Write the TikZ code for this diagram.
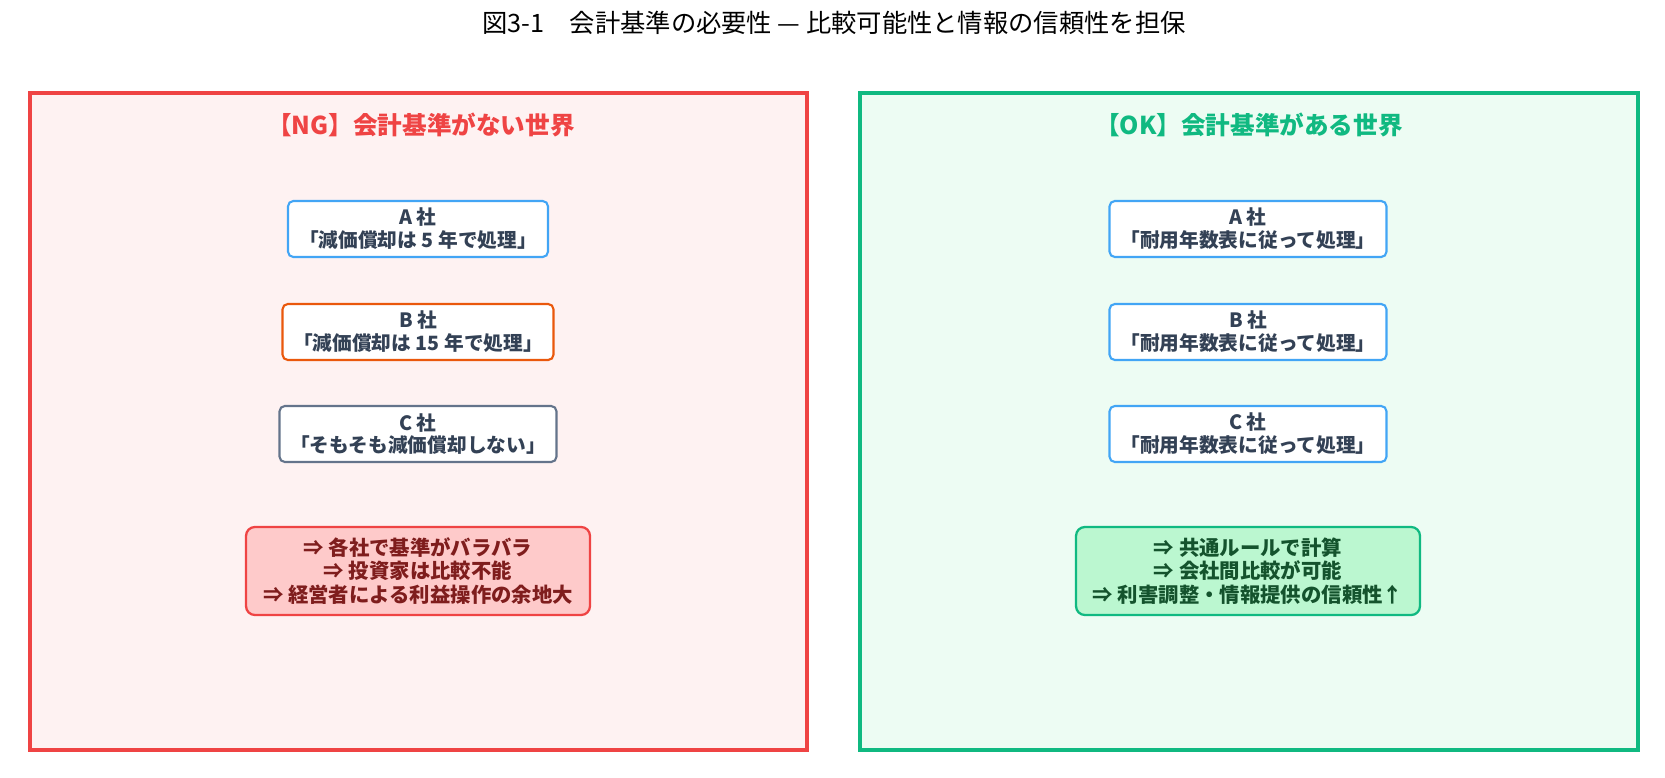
\documentclass[tikz,border=0pt]{standalone}
\usepackage{fontspec}
\setmainfont{Noto Sans CJK JP}
\usetikzlibrary{positioning}
\definecolor{ngred}{HTML}{EF4444}
\definecolor{ngbg}{HTML}{FEF2F2}
\definecolor{okgreen}{HTML}{10B981}
\definecolor{okbg}{HTML}{EDFCF3}
\definecolor{boxblue}{HTML}{42A5F5}
\definecolor{boxorange}{HTML}{EA580C}
\definecolor{boxgray}{HTML}{64748B}
\definecolor{textdark}{HTML}{334155}
\definecolor{ngfill}{HTML}{FECACA}
\definecolor{okfill}{HTML}{BBF7D0}
\definecolor{ngtext}{HTML}{7F1D1D}
\definecolor{oktext}{HTML}{14532D}

\begin{document}
\begin{tikzpicture}[x=0.02cm, y=-0.02cm]
      % Define styles
      \tikzset{
        world/.style={line width=2.6pt},
        heading/.style={font=\fontsize{14}{16}\selectfont\bfseries},
        company/.style={rectangle, draw=boxblue, fill=white, line width=1.2pt, rounded corners=3pt, align=center, minimum height=1.12cm, inner sep=3pt, text=textdark, font=\fontsize{11.2}{13}\selectfont\bfseries},
        result/.style={rectangle, line width=1.3pt, rounded corners=5pt, align=center, minimum height=1.76cm, minimum width=6.88cm, font=\fontsize{11.6}{13.5}\selectfont\bfseries}
      }
      \useasboundingbox (0,0) rectangle (1665,777);

      % Title
      \node (title) at (834,23) {\fontsize{14.4}{17}\selectfont 図3-1\quad 会計基準の必要性 — 比較可能性と情報の信頼性を担保};

      % Frames
      \draw [world, draw=ngred, fill=ngbg] (30,93) rectangle (807,750);
      \draw [world, draw=okgreen, fill=okbg] (860,93) rectangle (1638,750);
      \node [heading, text=ngred] (nghead) at (421,125) {【NG】会計基準がない世界};
      \node [heading, text=okgreen] (okhead) at (1249,125) {【OK】会計基準がある世界};

      % Left side
      \node [company, minimum width=5.2cm] (ngA) at (418,229) {A 社\\「減価償却は 5 年で処理」};
      \node [company, draw=boxorange, minimum width=5.42cm] (ngB) at (418,332) {B 社\\「減価償却は 15 年で処理」};
      \node [company, draw=boxgray, minimum width=5.54cm] (ngC) at (418,434) {C 社\\「そもそも減価償却しない」};
      \node [result, draw=ngred, fill=ngfill, text=ngtext] (ngres) at (418,571) {⇒ 各社で基準がバラバラ\\⇒ 投資家は比較不能\\⇒ 経営者による利益操作の余地大};

      % Right side
      \node [company, minimum width=5.54cm] (okA) at (1248,229) {A 社\\「耐用年数表に従って処理」};
      \node [company, minimum width=5.54cm] (okB) at (1248,332) {B 社\\「耐用年数表に従って処理」};
      \node [company, minimum width=5.54cm] (okC) at (1248,434) {C 社\\「耐用年数表に従って処理」};
      \node [result, draw=okgreen, fill=okfill, text=oktext] (okres) at (1248,571) {⇒ 共通ルールで計算\\⇒ 会社間比較が可能\\⇒ 利害調整・情報提供の信頼性↑};
    \end{tikzpicture}
\end{document}
